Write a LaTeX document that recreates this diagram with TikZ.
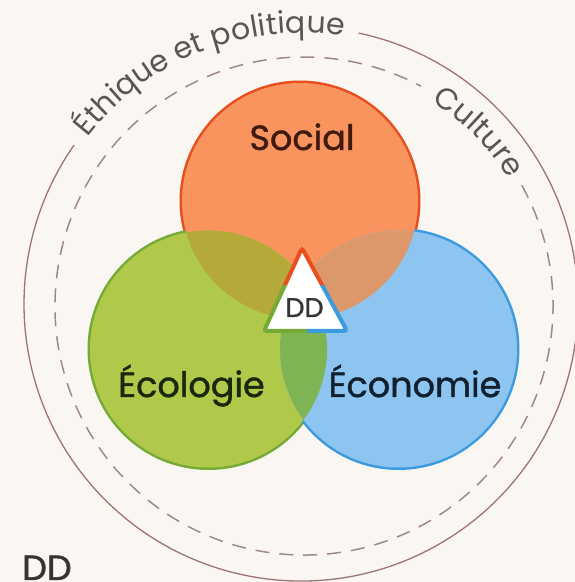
\documentclass[tikz,border=0pt]{standalone}
\usepackage{fontspec}
\setmainfont{Poppins}
\newfontfamily\labelfont{Poppins}[FakeBold=1.2]
\usetikzlibrary{decorations.text}

\definecolor{paper}{RGB}{250,247,242}
\definecolor{socfill}{RGB}{249,148,95}
\definecolor{socline}{RGB}{232,78,30}
\definecolor{ecofill}{RGB}{177,201,74}
\definecolor{ecoline}{RGB}{118,170,55}
\definecolor{econfill}{RGB}{142,197,240}
\definecolor{econline}{RGB}{60,155,222}
\definecolor{sgfill}{RGB}{181,169,58}
\definecolor{sbfill}{RGB}{220,151,106}
\definecolor{gbfill}{RGB}{126,180,82}
\definecolor{soctext}{RGB}{62,26,16}
\definecolor{ecotext}{RGB}{26,40,16}
\definecolor{econtext}{RGB}{16,32,46}
\definecolor{ddtext}{RGB}{52,52,52}
\definecolor{ringtext}{RGB}{88,86,86}
\definecolor{ringline}{RGB}{156,116,116}
\definecolor{dashline}{RGB}{160,136,138}

\newcommand\ringfont{\fontsize{30}{34}\selectfont}
\newcommand\ddtri{(t1) -- (t2) -- (t3) -- cycle}

\begin{document}
\begin{tikzpicture}[x=1pt,y=1pt,
  lbl/.style={font=\labelfont\fontsize{35}{40}\selectfont, anchor=base, inner sep=0pt},
  rim/.style={line width=5pt},
  edge/.style={line width=4pt, rounded corners=3pt}]
\useasboundingbox (0,0) rectangle (575,582);
\fill[paper] (0,0) rectangle (575,582);

\coordinate (ctr) at (301,278);
\coordinate (dctr) at (304,276);
\coordinate (S) at (300,381);
\coordinate (G) at (208.5,233);
\coordinate (B) at (398.5,233);

\draw[ringline, line width=1.3pt] ([shift={(78:277)}]ctr) arc[start angle=78, end angle=-215, radius=277];
\path[decorate, decoration={text along path, text={|\ringfont|Éthique et politique},
  text align={fit to path}, raise=-6pt, text color=ringtext}]
  ([shift={(142:277)}]ctr) arc[start angle=142, end angle=81, radius=277];

\draw[dashline, line width=1.5pt, dash pattern=on 14pt off 10pt] ([shift={(29:249)}]dctr) arc[start angle=29, end angle=-298, radius=249];
\path[decorate, decoration={text along path, text={|\ringfont|Culture},
  text align={fit to path}, raise=-9pt, text color=ringtext}]
  ([shift={(58:250)}]dctr) arc[start angle=58, end angle=32, radius=250];

\draw[socline, rim] (S) circle[radius=118];
\draw[ecoline, rim] (G) circle[radius=118.5];
\draw[econline, rim] (B) circle[radius=118.5];
\fill[socfill] (S) circle[radius=118];
\fill[ecofill] (G) circle[radius=118.5];
\fill[econfill] (B) circle[radius=118.5];
\begin{scope}
  \clip (S) circle[radius=118];
  \fill[sgfill] (G) circle[radius=118.5];
  \fill[sbfill] (B) circle[radius=118.5];
\end{scope}
\begin{scope}
  \clip (G) circle[radius=118.5];
  \fill[gbfill] (B) circle[radius=118.5];
\end{scope}

\coordinate (t1) at (302,334);
\coordinate (t2) at (264,251);
\coordinate (t3) at (347,251);
\fill[white, rounded corners=3pt] \ddtri;
\begin{scope}
  \clip (0,296) rectangle (575,582);
  \draw[socline, edge] \ddtri;
\end{scope}
\begin{scope}
  \clip (0,0) rectangle (307,296);
  \draw[ecoline, edge] \ddtri;
\end{scope}
\begin{scope}
  \clip (307,0) rectangle (575,296);
  \draw[econline, edge] \ddtri;
\end{scope}

\node[lbl, text=soctext] (soc) at (302,432) {Social};
\node[lbl, text=ecotext] (eco) at (191.5,185) {Écologie};
\node[lbl, text=econtext] (econ) at (415,185) {Économie};
\node[lbl, font=\labelfont\fontsize{27}{30}\selectfont, text=ddtext] (dd) at (304.5,265) {DD};
\node[lbl, anchor=base west, text=ddtext] (key) at (22,2) {DD};
\end{tikzpicture}
\end{document}
